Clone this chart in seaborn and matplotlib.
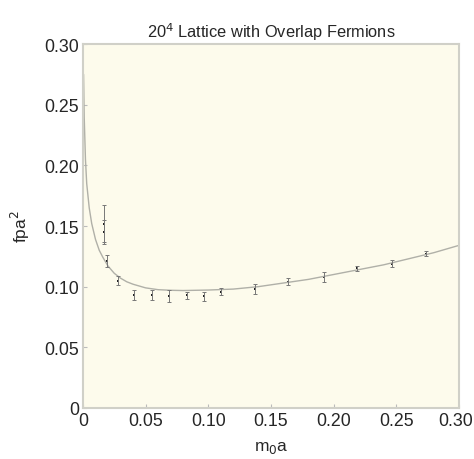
import numpy as np
import pandas as pd
import seaborn as sns
import matplotlib.pyplot as plt
import matplotlib.transforms as mtransforms

# lattice data points (m0 a, f_P a^2, error)
MASS = [0.017, 0.017, 0.019, 0.028, 0.041, 0.055, 0.069, 0.083, 0.097, 0.110,
        0.137, 0.164, 0.192, 0.219, 0.247, 0.274]
FPA2 = [0.152, 0.145, 0.121, 0.105, 0.093, 0.093, 0.092, 0.093, 0.092, 0.096,
        0.098, 0.104, 0.108, 0.115, 0.119, 0.127]
ERR = [0.015, 0.010, 0.005, 0.004, 0.004, 0.004, 0.005, 0.003, 0.004, 0.003,
       0.004, 0.003, 0.004, 0.002, 0.003, 0.002]

# fit curve
FIT_MASS = [0.0005, 0.001, 0.002, 0.003, 0.005, 0.007, 0.010, 0.013, 0.016, 0.020,
            0.025, 0.030, 0.035, 0.040, 0.050, 0.060, 0.070, 0.080, 0.090, 0.100,
            0.120, 0.140, 0.160, 0.180, 0.200, 0.220, 0.240, 0.260, 0.280, 0.300]
FIT_FPA2 = [0.275, 0.240, 0.205, 0.185, 0.165, 0.152, 0.139, 0.130, 0.124, 0.117,
            0.111, 0.107, 0.104, 0.102, 0.099, 0.0975, 0.097, 0.0968, 0.097, 0.0972,
            0.098, 0.100, 0.103, 0.106, 0.110, 0.114, 0.118, 0.123, 0.128, 0.134]

TICKS = [0, 0.05, 0.10, 0.15, 0.20, 0.25, 0.30]
TICK_LABELS = ["0", "0.05", "0.10", "0.15", "0.20", "0.25", "0.30"]

sns.set_style("ticks")
plt.rcParams["font.family"] = ["Liberation Sans", "DejaVu Sans"]

fig = plt.figure(figsize=(4.74, 4.6), dpi=100)
ax = fig.add_axes([0.175, 0.111, 0.793, 0.791])
ax.set_facecolor("#fdfbec")

fit_df = pd.DataFrame({"m": FIT_MASS, "f": FIT_FPA2})
sns.lineplot(data=fit_df, x="m", y="f", color="#b0b0a8", linewidth=1.0, ax=ax,
             sort=False)
ax.errorbar(MASS, FPA2, yerr=ERR, fmt="none", ecolor="#777777", elinewidth=0.7,
            capsize=1.2, capthick=0.7)
sns.scatterplot(x=MASS, y=FPA2, color="#222222", s=4, marker="s", linewidth=0, ax=ax)

ax.set_xlim(0, 0.30)
ax.set_ylim(0, 0.30)
ax.set_xticks(TICKS)
ax.set_xticklabels(TICK_LABELS)
ax.set_yticks(TICKS)
ax.set_yticklabels(TICK_LABELS)
ax.tick_params(direction="in", length=3, color="#bbbbbb", labelsize=12.8, pad=3)
for sp in ax.spines.values():
    sp.set_color("#d0d0c8")
    sp.set_linewidth(1.5)

# keep the last x tick label inside the figure
last = ax.get_xticklabels()[-1]
last.set_horizontalalignment("right")
last.set_transform(last.get_transform()
                   + mtransforms.ScaledTranslation(0.14, 0, fig.dpi_scale_trans))

ax.set_xlabel("m$_0$a", fontsize=12.5, labelpad=7)
ax.set_ylabel("fpa$^2$", fontsize=12.5, labelpad=9)
ax.set_title("20$^4$ Lattice with Overlap Fermions", fontsize=11.8, pad=5)

fig.savefig("out.png", dpi=100)
